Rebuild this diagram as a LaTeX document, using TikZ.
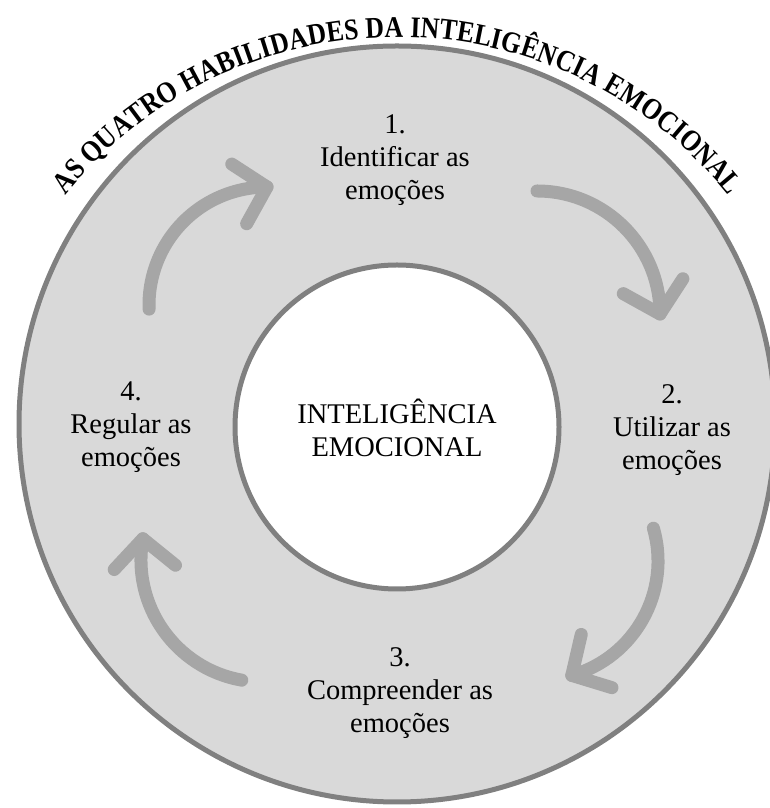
\documentclass[tikz,border=0pt]{standalone}
\usepackage{fontspec}
\setmainfont{Liberation Serif}
\newfontfamily\archfont[FakeStretch=0.86]{Liberation Serif}
\usetikzlibrary{calc,decorations.text}
\definecolor{ringfill}{HTML}{D9D9D9}
\definecolor{ringline}{HTML}{808080}
\definecolor{arrowgray}{HTML}{A6A6A6}
\begin{document}
\begin{tikzpicture}[x=1pt,y=1pt,
  ring/.style={draw=ringline, line width=5pt},
  cyclearrow/.style={draw=arrowgray, line width=13pt, line cap=round, line join=round},
  steptext/.style={align=center, font=\fontsize{28.5}{33}\selectfont, inner sep=0pt}]
\useasboundingbox (0,0) rectangle (770,808);

% outer ring
\coordinate (mid) at (397,384);
\draw[ring, fill=ringfill] (mid) circle[radius=378];

% inner disc with the central concept
\node[ring, fill=white, circle, minimum size=324pt, inner sep=0pt] (core) at (397,381) {};
\node[steptext] (coretext) at (397,380) {INTELIGÊNCIA\\EMOCIONAL};

% title set along an arch above the ring
\coordinate (archc) at (397,344);
\path[decorate, decoration={text along path, text align={fit to path},
  text={|\archfont\bfseries\fontsize{30}{34}\selectfont|AS QUATRO HABILIDADES DA INTELIGÊNCIA EMOCIONAL}}]
  ($(archc)+(141:427)$) arc[start angle=141, end angle=39, radius=427];

% the four abilities
\node[steptext] (step1) at (395,648) {1.\\Identificar as\\emoções};
\node[steptext] (step2) at (672,378) {2.\\Utilizar as\\emoções};
\node[steptext] (step3) at (400,115) {3.\\Compreender as\\emoções};
\node[steptext] (step4) at (131,381) {4.\\Regular as\\emoções};

% clockwise cycle arrows: centre x / centre y / radius / start angle / end angle
\foreach \cx/\cy/\r/\a/\b [count=\i] in
  {267/503/118/182/90, 537/494/123/90/0, 539/247/119/16/-74, 263/248/122/260/170} {
  \coordinate (ac\i) at (\cx,\cy);
  \coordinate (tip\i) at ($(ac\i)+(\b:\r)$);
  \draw[cyclearrow] ($(ac\i)+(\a:\r)$) arc[start angle=\a, end angle=\b, radius=\r];
  \draw[cyclearrow] ($(tip\i)+({\b+151}:42)$) -- (tip\i) -- ($(tip\i)+({\b+57}:42)$);
}
\end{tikzpicture}
\end{document}
